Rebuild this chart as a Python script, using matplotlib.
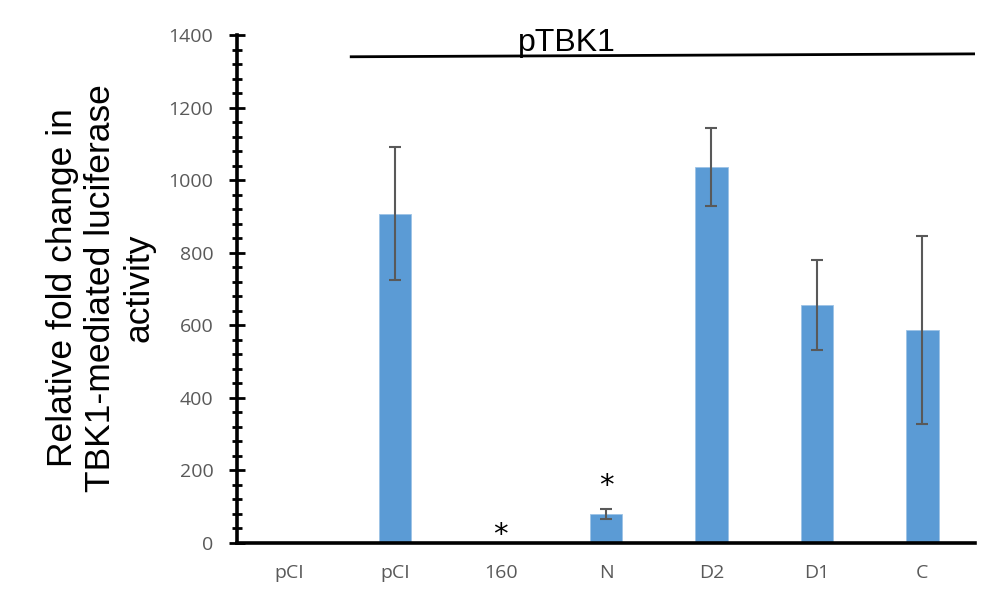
import matplotlib
matplotlib.use("Agg")
import matplotlib.pyplot as plt
from matplotlib.ticker import MultipleLocator
import numpy as np

categories = ["pCI", "pCI", "160", "N", "D2", "D1", "C"]
values = [0, 907, 0, 79, 1037, 656, 587]
errors = [0, 183, 0, 14, 107, 124, 259]
star_x = [2, 3]
star_y = [23, 156]
bracket_label = "pTBK1"
ylabel = "Relative fold change in\nTBK1-mediated luciferase\nactivity"

fig = plt.figure(figsize=(9.94, 6.0), dpi=100)
ax = fig.add_axes([237/994, 1-543/600, (975-237)/994, (543-35)/600])

x = np.arange(len(categories))
ax.bar(x, values, width=0.31, color="#5B9BD5", edgecolor="#9DC3E6", linewidth=0.6, zorder=2)
mask = np.array(errors) > 0
ax.errorbar(x[mask], np.array(values)[mask], yerr=np.array(errors)[mask], fmt="none",
            ecolor="#595959", elinewidth=1.5, capsize=4.3, capthick=1.5, zorder=3)

ax.set_xlim(-0.5, len(categories) - 0.5)
ax.set_ylim(0, 1400)
ax.yaxis.set_major_locator(MultipleLocator(200))
ax.yaxis.set_minor_locator(MultipleLocator(40))

for s in ["top", "right"]:
    ax.spines[s].set_visible(False)
for s in ["left", "bottom"]:
    ax.spines[s].set_linewidth(2.6)
    ax.spines[s].set_color("black")

ax.set_xticks(x)
ax.set_xticklabels(categories)
ax.tick_params(axis="x", length=0, pad=15, labelsize=14, labelcolor="#595959")
ax.tick_params(axis="y", which="major", direction="inout", length=11, width=2.0,
               pad=11.5, labelsize=14, labelcolor="#595959", color="black")
ax.tick_params(axis="y", which="minor", direction="inout", length=7.5, width=2.0, color="black")
for lab in ax.get_xticklabels() + ax.get_yticklabels():
    lab.set_family("Open Sans")

for sx, sy in zip(star_x, star_y):
    ax.text(sx, sy, "*", ha="center", va="center", fontsize=21, family="DejaVu Sans", color="black")

# bracket line for pTBK1
ax.plot([0.57, 6.5], [1340, 1348], color="black", linewidth=2.0, clip_on=False, solid_capstyle="butt")
ax.text(2.63, 1356, bracket_label, ha="center", va="baseline", fontsize=23,
        family="Liberation Sans", color="black")

fig.text(101/994, 1-288/600, ylabel, rotation=90, ha="center", va="center",
         multialignment="center", fontsize=25.5, family="Liberation Sans", color="black",
         linespacing=1.2)

fig.savefig("out.png", dpi=100)
